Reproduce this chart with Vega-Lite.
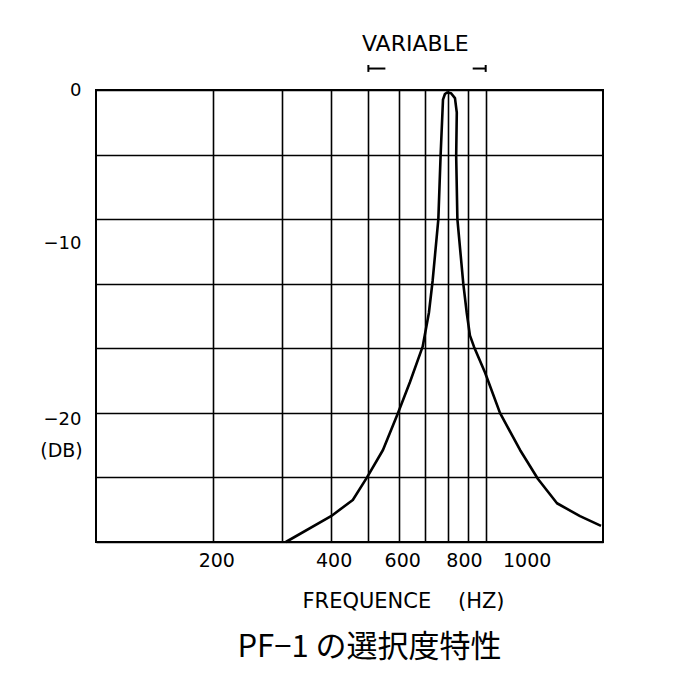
{
  "$schema": "https://vega.github.io/schema/vega-lite/v6.json",
  "width": 507,
  "height": 452,
  "autosize": {"type": "none"},
  "padding": {"left": 96, "top": 90, "right": 83, "bottom": 157},
  "background": "white",
  "config": {
    "view": {"stroke": "black", "strokeWidth": 2},
    "font": "DejaVu Sans"
  },
  "title": {
    "text": "PF−1 の選択度特性",
    "orient": "bottom",
    "anchor": "middle",
    "font": "Noto Sans CJK JP",
    "fontSize": 31,
    "fontWeight": "normal",
    "color": "black",
    "dx": 20,
    "offset": 22
  },
  "datasets": {
    "curve": [
      {"i": 1, "f": 307, "db": -28.0},
      {"i": 2, "f": 401, "db": -26.4},
      {"i": 3, "f": 456, "db": -25.4},
      {"i": 4, "f": 496, "db": -24.0},
      {"i": 5, "f": 545, "db": -22.3},
      {"i": 6, "f": 596, "db": -20.0},
      {"i": 7, "f": 639, "db": -18.1},
      {"i": 8, "f": 689, "db": -15.9},
      {"i": 9, "f": 715, "db": -13.8},
      {"i": 10, "f": 731, "db": -11.8},
      {"i": 11, "f": 756, "db": -8.0},
      {"i": 12, "f": 766, "db": -4.1},
      {"i": 13, "f": 777, "db": -0.6},
      {"i": 14, "f": 786, "db": -0.25},
      {"i": 15, "f": 796, "db": -0.15},
      {"i": 16, "f": 815, "db": -0.2},
      {"i": 17, "f": 834, "db": -0.5},
      {"i": 18, "f": 843, "db": -1.4},
      {"i": 19, "f": 840, "db": -4.1},
      {"i": 20, "f": 846, "db": -8.0},
      {"i": 21, "f": 876, "db": -12.0},
      {"i": 22, "f": 894, "db": -13.8},
      {"i": 23, "f": 911, "db": -15.2},
      {"i": 24, "f": 933, "db": -15.9},
      {"i": 25, "f": 996, "db": -17.5},
      {"i": 26, "f": 1088, "db": -20.0},
      {"i": 27, "f": 1225, "db": -22.3},
      {"i": 28, "f": 1362, "db": -24.1},
      {"i": 29, "f": 1524, "db": -25.6},
      {"i": 30, "f": 1746, "db": -26.4},
      {"i": 31, "f": 1977, "db": -27.0}
    ],
    "range": [{"lo": 500, "hi": 1000, "label": "VARIABLE"}]
  },
  "layer": [
    {
      "data": {"name": "curve"},
      "mark": {"type": "line", "color": "black", "strokeWidth": 2.6, "strokeJoin": "round"},
      "encoding": {
        "x": {
          "field": "f",
          "type": "quantitative",
          "scale": {"type": "log", "domain": [100, 2000], "nice": false},
          "axis": {
            "values": [200, 300, 400, 500, 600, 700, 800, 900, 1000],
            "labelExpr": "indexof([200,400,600,800,1000], datum.value) >= 0 ? format(datum.value, 'd') : ''",
            "grid": true,
            "gridColor": "black",
            "gridWidth": 1.6,
            "gridOpacity": 1,
            "ticks": false,
            "domain": false,
            "labelFontSize": 19,
            "labelColor": "black",
            "labelPadding": 9,
            "labelOverlap": false,
            "labelFlush": false,
            "labelOffset": {"condition": [{"test": "datum.value === 800", "value": 16}, {"test": "datum.value === 1000", "value": 41}], "value": 3},
            "title": "FREQUENCE\u00a0\u00a0\u00a0\u00a0(HZ)",
            "titleFontSize": 21,
            "titleFontWeight": "normal",
            "titleColor": "black",
            "titleX": 307,
            "titleY": 59,
            "titleAlign": "center",
            "titleBaseline": "middle"
          }
        },
        "y": {
          "field": "db",
          "type": "quantitative",
          "scale": {"domain": [-28, 0], "nice": false, "zero": false},
          "axis": {
            "values": [0, -4, -8, -10, -12, -16, -20, -24, -28],
            "labelExpr": "datum.value % 10 === 0 ? datum.label : ''",
            "grid": true,
            "gridColor": "black",
            "gridWidth": 1.6,
            "gridOpacity": {"condition": {"test": "datum.value % 4 === 0", "value": 1}, "value": 0},
            "ticks": false,
            "domain": false,
            "labelFontSize": 18,
            "labelColor": "black",
            "labelPadding": 15,
            "labelOverlap": false,
            "labelFlush": false,
            "labelOffset": {"condition": [{"test": "datum.value === -10", "value": -8}, {"test": "datum.value === -20", "value": 7}], "value": 0},
            "title": "(DB)",
            "titleAngle": 0,
            "titleX": -35,
            "titleY": 360,
            "titleAlign": "center",
            "titleBaseline": "middle",
            "titleFontSize": 19,
            "titleFontWeight": "normal",
            "titleColor": "black"
          }
        },
        "order": {"field": "i", "type": "quantitative"}
      }
    },
    {
      "data": {"name": "range"},
      "mark": {"type": "text", "fontSize": 22, "color": "black", "align": "center", "baseline": "middle"},
      "encoding": {
        "x": {"datum": 660, "type": "quantitative"},
        "y": {"datum": 2.85, "type": "quantitative"},
        "text": {"field": "label"}
      }
    },
    {
      "data": {"name": "range"},
      "mark": {"type": "rule", "color": "black", "strokeWidth": 2},
      "encoding": {
        "x": {"field": "lo", "type": "quantitative"},
        "y": {"datum": 1.12, "type": "quantitative"},
        "y2": {"datum": 1.55}
      }
    },
    {
      "data": {"name": "range"},
      "mark": {"type": "rule", "color": "black", "strokeWidth": 2, "x2Offset": 17},
      "encoding": {
        "x": {"field": "lo", "type": "quantitative"},
        "x2": {"field": "lo"},
        "y": {"datum": 1.33, "type": "quantitative"}
      }
    },
    {
      "data": {"name": "range"},
      "mark": {"type": "rule", "color": "black", "strokeWidth": 2},
      "encoding": {
        "x": {"field": "hi", "type": "quantitative"},
        "y": {"datum": 1.12, "type": "quantitative"},
        "y2": {"datum": 1.55}
      }
    },
    {
      "data": {"name": "range"},
      "mark": {"type": "rule", "color": "black", "strokeWidth": 2, "xOffset": -13},
      "encoding": {
        "x": {"field": "hi", "type": "quantitative"},
        "x2": {"field": "hi"},
        "y": {"datum": 1.33, "type": "quantitative"}
      }
    }
  ]
}
